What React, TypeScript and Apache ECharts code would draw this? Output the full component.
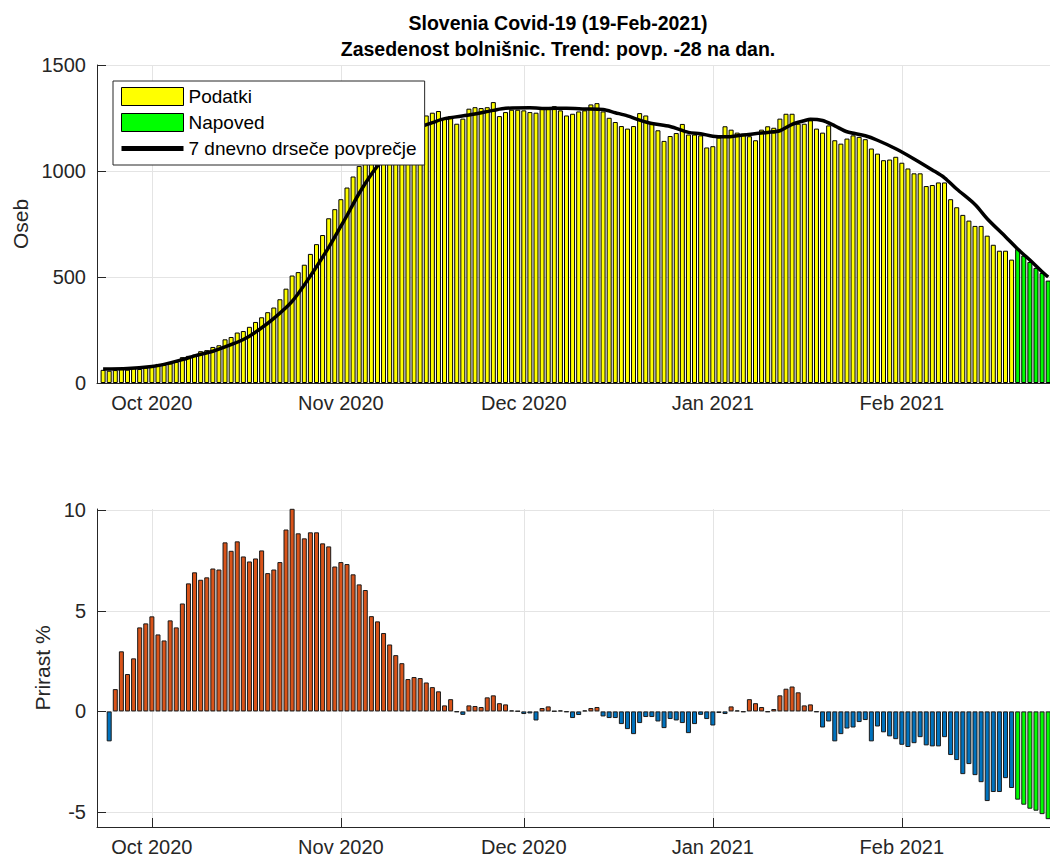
import React, { useEffect, useRef } from 'react';
import * as echarts from 'echarts';

// ---- data ----
const startDate = '2020-09-23'; // first bar (index 0)

// hospital occupancy, 23-Sep-2020 .. 19-Feb-2021
const occupancy = [
  62, 58, 61, 66, 63, 72, 66, 72,
  82, 90, 86, 92, 100, 122, 128, 134, 150, 155,
  170, 178, 206, 217, 238, 245, 265, 288, 310, 334,
  356, 395, 445, 507, 523, 558, 609, 655, 698, 777,
  820, 867, 922, 974, 1024, 1045, 1080, 1110, 1140, 1170,
  1190, 1215, 1230, 1250, 1265, 1262, 1275, 1283, 1247, 1259,
  1223, 1247, 1294, 1301, 1297, 1301, 1325, 1259, 1278, 1289,
  1289, 1286, 1278, 1275, 1294, 1297, 1306, 1286, 1262, 1270,
  1281, 1286, 1314, 1320, 1281, 1251, 1231, 1212, 1200, 1212,
  1273, 1262, 1223, 1192, 1142, 1165, 1179, 1222, 1172, 1172,
  1168, 1111, 1117, 1158, 1211, 1195, 1181, 1176, 1164, 1145,
  1195, 1211, 1204, 1247, 1270, 1270, 1223, 1223, 1239, 1200,
  1181, 1215, 1145, 1129, 1153, 1168, 1161, 1150, 1106, 1082,
  1051, 1054, 1067, 1039, 1012, 989, 989, 929, 934, 946,
  946, 867, 829, 793, 766, 741, 741, 695, 652, 624,
  624, 582,
];

// forecast, 20-Feb-2021 .. 25-Feb-2021
const forecast = [632, 601, 571, 543, 519, 483];

// 7-day moving average (day index from startDate, value)
const avgDayIndex = [
  0, 4, 8, 10, 13, 15, 18, 20, 23, 25, 28, 31, 34, 37, 39, 40, 42, 44, 46, 48,
  50, 52, 54, 56, 60, 64, 66, 70, 73, 76, 79, 82, 84, 86, 88, 90, 93, 96, 98, 100,
  102, 105, 109, 111, 113, 115, 116, 118, 120, 122, 125, 127, 130, 133, 136, 138, 140, 143, 145, 148,
  150, 152, 154, 155,
];
const avgValues = [
  66, 68, 78, 88, 110, 128, 150, 170, 205, 240, 305, 385, 505, 640, 740, 790, 895, 985, 1060, 1125,
  1175, 1207, 1228, 1247, 1264, 1286, 1296, 1298, 1295, 1296, 1293, 1290, 1275, 1260, 1240, 1224, 1210, 1182, 1176, 1164,
  1161, 1170, 1182, 1190, 1220, 1237, 1244, 1238, 1213, 1185, 1166, 1145, 1105, 1057, 1005, 968, 915, 842, 775, 690,
  632, 580, 525, 500,
];

// daily growth %, 24-Sep-2020 .. 19-Feb-2021
const growth = [
  -1.49, 1.11, 2.99, 1.86, 2.64, 4.18, 4.38,
  4.73, 3.83, 3.53, 4.53, 4.18, 5.37, 6.37, 6.92, 6.55, 6.67,
  7.11, 7.06, 8.41, 7.99, 8.46, 7.71, 7.46, 7.61, 8.01, 6.88,
  7.06, 7.43, 9.05, 10.08, 8.86, 8.61, 8.91, 8.91, 8.36, 8.21,
  7.21, 7.43, 7.33, 6.82, 6.32, 6.04, 4.74, 4.48, 3.90, 3.33,
  2.80, 2.40, 1.61, 1.71, 1.66, 1.44, 1.21, 1.00, 0.30, 0.61,
  -0.03, -0.17, 0.30, 0.27, 0.22, 0.70, 0.80, 0.41, 0.35, 0.05,
  0.02, -0.13, -0.10, -0.45, 0.17, 0.25, 0.02, 0.05, -0.03, -0.33,
  -0.18, 0.05, 0.17, 0.22, -0.25, -0.33, -0.33, -0.63, -0.88, -1.13,
  -0.58, -0.28, -0.28, -0.50, -0.83, -0.38, -0.45, -0.58, -1.08, -0.63,
  -0.17, -0.38, -0.70, -0.08, -0.13, 0.25, 0.05, -0.03, 0.61, 0.41,
  0.22, -0.03, 0.12, 0.80, 1.13, 1.24, 0.95, 0.30, 0.35, -0.03,
  -0.80, -0.50, -1.49, -1.13, -0.85, -0.80, -0.53, -0.43, -1.49, -0.75,
  -1.04, -1.24, -1.38, -1.66, -1.77, -1.58, -1.28, -1.69, -1.74, -1.74,
  -1.28, -2.17, -2.42, -3.12, -2.62, -3.17, -3.52, -4.46, -4.01, -4.01,
  -3.32, -3.81,
];
const growthStartIndex = 1; // 24-Sep-2020
// forecast growth %, 20-Feb-2021 .. 25-Feb-2021
const growthForecast = [-4.39, -4.64, -4.84, -4.94, -5.11, -5.36];

const monthTickDates = ['2020-10-01', '2020-11-01', '2020-12-01', '2021-01-01', '2021-02-01'];
const monthTickLabels = ['Oct 2020', 'Nov 2020', 'Dec 2020', 'Jan 2021', 'Feb 2021'];
const bottomYTicks = [-5, 0, 5, 10];

const titleText = 'Slovenia Covid-19 (19-Feb-2021)\nZasedenost bolnišnic. Trend: povp. -28 na dan.';
const legendNames = ['Podatki', 'Napoved', '7 dnevno drseče povprečje'];

// ---- helpers ----
const DAY = 86400000;
const dayIndex = (s: string) => Math.round((Date.parse(s) - Date.parse(startDate)) / DAY);
const monthTickPos = monthTickDates.map(dayIndex);
const monthLabel = (v: number) => {
  const k = monthTickPos.findIndex((p) => Math.abs(p - v) < 0.5);
  return k >= 0 ? monthTickLabels[k] : '';
};

const FONT = 'Liberation Sans, Arial, Helvetica, sans-serif';
const AX = '#262626';
const GRIDC = '#e4e4e4';
const TICK_FS = 20;

const YELLOW = '#FFFF00';
const GREEN = '#00FF00';
const ORANGE = '#D95319';
const BLUE = '#0072BD';

export default function App() {
  const ref = useRef<HTMLDivElement>(null);

  useEffect(() => {
    if (!ref.current) return;
    const chart = echarts.init(ref.current, null, { renderer: 'svg' });

    const xAxisBase = (gridIndex: number) => ({
      type: 'value',
      gridIndex,
      min: -1,
      max: 155.3,
      axisLine: { show: true, onZero: false, lineStyle: { color: AX, width: 1 } },
      axisTick: { show: true, inside: true, length: 9, customValues: monthTickPos, lineStyle: { color: AX } },
      axisLabel: {
        customValues: monthTickPos,
        formatter: (v: number) => monthLabel(v),
        color: AX,
        fontSize: TICK_FS,
        fontFamily: FONT,
        margin: 10,
      },
      splitLine: { show: true, lineStyle: { color: GRIDC, width: 1 } },
    });

    const yAxisBase = {
      axisLine: { show: true, onZero: false, lineStyle: { color: AX, width: 1 } },
      axisTick: { show: true, inside: true, length: 9, lineStyle: { color: AX } },
      splitLine: { show: true, lineStyle: { color: GRIDC, width: 1 } },
      nameLocation: 'middle',
      nameTextStyle: { fontSize: 21, fontFamily: FONT, color: AX },
    };

    const lastDataIndex = occupancy.length;

    const option: any = {
      animation: false,
      backgroundColor: '#ffffff',
      textStyle: { fontFamily: FONT },
      graphic: [
        {
          type: 'text',
          x: 558,
          y: 10,
          style: {
            text: titleText,
            align: 'center',
            verticalAlign: 'top',
            fontSize: 19.5,
            fontWeight: 'bold',
            fontFamily: FONT,
            lineHeight: 26,
            fill: '#000000',
          },
        },
      ],
      grid: [
        { left: 97, width: 953, top: 65, height: 318 },
        { left: 97, width: 953, top: 509, height: 318 },
      ],
      legend: {
        data: [
          { name: legendNames[0], icon: 'rect' },
          { name: legendNames[1], icon: 'rect' },
          { name: legendNames[2], itemStyle: { opacity: 0 }, lineStyle: { width: 5 } },
        ],
        orient: 'vertical',
        left: 113,
        top: 81,
        itemWidth: 62,
        itemHeight: 18,
        itemGap: 7,
        padding: [6, 8, 7, 6],
        backgroundColor: '#ffffff',
        borderColor: AX,
        borderWidth: 1,
        borderRadius: 0,
        selectedMode: false,
        itemStyle: { borderWidth: 1, borderColor: '#000000' },
        textStyle: { fontSize: 19, fontFamily: FONT, color: '#000000' },
        z: 10,
      },
      xAxis: [xAxisBase(0), xAxisBase(1)],
      yAxis: [
        {
          ...yAxisBase,
          type: 'value',
          gridIndex: 0,
          min: 0,
          max: 1500,
          interval: 500,
          name: 'Oseb',
          nameGap: 64,
          axisLabel: { color: AX, fontSize: TICK_FS, fontFamily: FONT, margin: 11, formatter: (v: number) => String(v) },
        },
        {
          ...yAxisBase,
          type: 'value',
          gridIndex: 1,
          min: -5.75,
          max: 10.07,
          axisTick: { ...yAxisBase.axisTick, customValues: bottomYTicks },
          axisLabel: {
            customValues: bottomYTicks,
            color: AX,
            fontSize: TICK_FS,
            fontFamily: FONT,
            margin: 11,
            formatter: (v: number) => String(v),
          },
          name: 'Prirast %',
          nameGap: 42,
        },
      ],
      series: [
        {
          name: legendNames[0],
          type: 'bar',
          xAxisIndex: 0,
          yAxisIndex: 0,
          barWidth: 5,
          barGap: '-100%',
          itemStyle: { color: YELLOW, borderColor: '#000000', borderWidth: 1 },
          data: occupancy.map((v, i) => [i, v]),
          z: 2,
        },
        {
          name: legendNames[1],
          type: 'bar',
          xAxisIndex: 0,
          yAxisIndex: 0,
          barWidth: 5,
          barGap: '-100%',
          itemStyle: { color: GREEN, borderColor: '#000000', borderWidth: 1 },
          data: forecast.map((v, k) => [lastDataIndex + k, v]),
          z: 2,
        },
        {
          name: legendNames[2],
          type: 'line',
          xAxisIndex: 0,
          yAxisIndex: 0,
          symbol: 'none',
          smooth: 0.3,
          lineStyle: { color: '#000000', width: 3.5 },
          itemStyle: { color: '#000000' },
          data: avgDayIndex.map((d, k) => [d, avgValues[k]]),
          z: 3,
        },
        {
          name: 'Prirast',
          type: 'bar',
          xAxisIndex: 1,
          yAxisIndex: 1,
          barWidth: 5,
          data: [
            ...growth.map((v, k) => ({
              value: [growthStartIndex + k, v],
              itemStyle: { color: v >= 0 ? ORANGE : BLUE, borderColor: '#1a1a1a', borderWidth: 1 },
            })),
            ...growthForecast.map((v, k) => ({
              value: [growthStartIndex + growth.length + k, v],
              itemStyle: { color: GREEN, borderColor: '#1a1a1a', borderWidth: 1 },
            })),
          ],
          z: 2,
        },
      ],
    };

    chart.setOption(option);
    return () => chart.dispose();
  }, []);

  return (
    <div
      ref={ref}
      style={{ position: 'fixed', left: 0, top: 0, width: 1050, height: 861, background: '#fff' }}
    />
  );
}
